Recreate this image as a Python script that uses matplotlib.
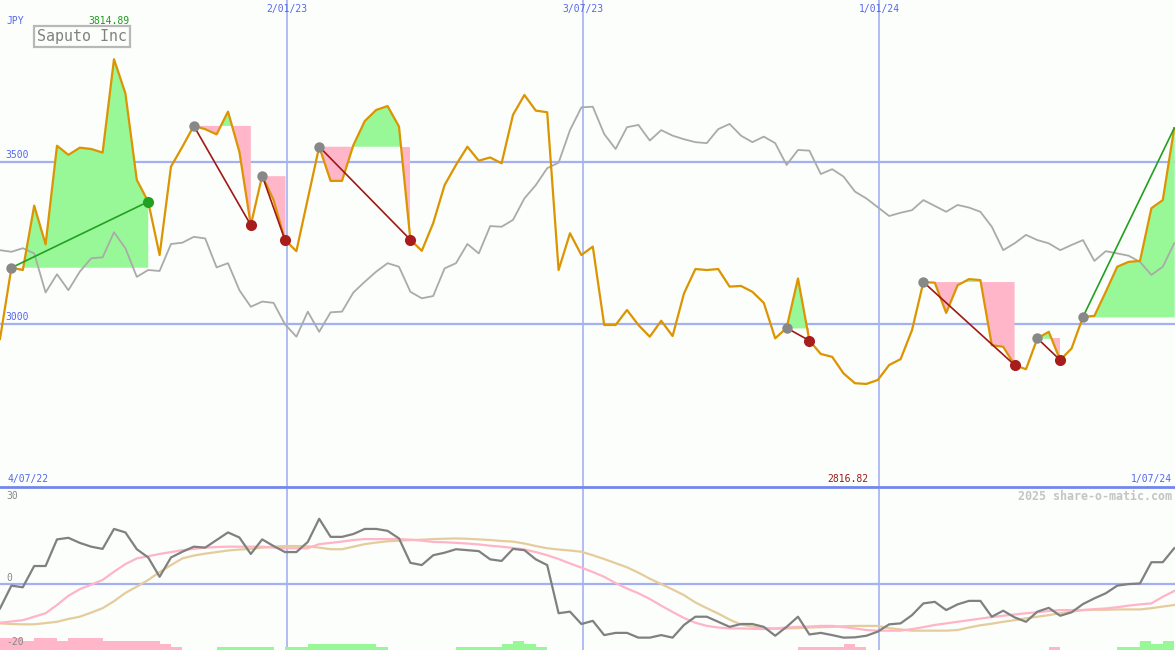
import matplotlib
matplotlib.use('Agg')
import matplotlib.pyplot as plt
import matplotlib.dates as mdates
from matplotlib.lines import Line2D
import numpy as np
import pandas as pd

# weekly closes, JPY
dates = pd.date_range('2022-07-10', periods=104, freq='7D')

price = [2955, 3174, 3167, 3365, 3246, 3549, 3521, 3543, 3539, 3528,
         3814.89, 3710, 3444, 3377, 3213, 3485, 3546, 3610, 3600, 3584,
         3654, 3530, 3305, 3457, 3382, 3259, 3225, 3386, 3546, 3441,
         3441, 3551, 3625, 3659, 3671, 3608, 3260, 3226, 3311, 3428,
         3490, 3546, 3503, 3513, 3495, 3644, 3705, 3657, 3652, 3167,
         3280, 3213, 3239, 2998, 2998, 3044, 2998, 2962, 3011, 2964,
         3095, 3170, 3167, 3170, 3116, 3118, 3100, 3066, 2957, 2989,
         3141, 2950, 2909, 2900, 2849, 2819, 2816.82, 2829, 2875, 2893,
         2982, 3130, 3128, 3035, 3120, 3139, 3136, 2936, 2931, 2875,
         2862, 2957, 2977, 2890, 2926, 3023, 3026, 3100, 3177, 3192,
         3195, 3357, 3382, 3603]

# comparison line (grey)
relative = [3228, 3223, 3234, 3218, 3098, 3154, 3105, 3162, 3203, 3206,
            3283, 3234, 3146, 3167, 3164, 3247, 3251, 3269, 3264, 3175,
            3188, 3105, 3054, 3070, 3066, 3000, 2962, 3039, 2977, 3037,
            3039, 3098, 3131, 3162, 3188, 3177, 3100, 3080, 3087, 3172,
            3188, 3247, 3218, 3302, 3300, 3321, 3387, 3428, 3480, 3497,
            3597, 3667, 3669, 3585, 3539, 3606, 3613, 3565, 3597, 3580,
            3569, 3560, 3557, 3600, 3616, 3580, 3560, 3577, 3557, 3490,
            3536, 3534, 3462, 3477, 3454, 3408, 3387, 3360, 3333, 3343,
            3351, 3382, 3364, 3346, 3367, 3359, 3346, 3300, 3228, 3249,
            3275, 3259, 3249, 3228, 3244, 3259, 3195, 3225, 3218, 3211,
            3192, 3152, 3177, 3249]

# lower panel
momentum = [-7.7, -0.5, -1.0, 5.7, 5.7, 14.1, 14.6, 13.0, 11.8, 11.1,
            17.4, 16.3, 11.0, 8.4, 2.3, 8.4, 10.2, 11.8, 11.5, 13.9,
            16.3, 14.7, 9.5, 14.1, 12.0, 10.1, 10.1, 13.3, 20.6, 14.9,
            14.9, 15.8, 17.4, 17.4, 16.8, 14.4, 6.7, 6.0, 9.1, 9.9,
            11.0, 10.7, 10.4, 7.8, 7.3, 11.1, 10.7, 7.8, 6.0, -9.2,
            -8.7, -12.6, -11.6, -16.1, -15.4, -15.4, -16.9, -16.9, -16.1, -16.9,
            -12.9, -10.3, -10.3, -11.9, -13.5, -12.6, -12.6, -13.5, -16.3, -13.5,
            -10.3, -15.9, -15.4, -16.1, -16.9, -16.8, -16.3, -15.0, -12.7, -12.4,
            -9.8, -6.1, -5.6, -8.2, -6.4, -5.3, -5.3, -10.3, -8.4, -10.5,
            -11.9, -8.7, -7.5, -10.0, -8.9, -6.3, -4.5, -2.9, -0.5, 0.0,
            0.2, 6.9, 6.9, 11.3]

fast = [-12.2, -11.8, -11.4, -10.3, -9.2, -6.6, -3.7, -1.6, -0.2, 1.3,
        3.9, 6.3, 8.1, 8.8, 9.5, 10.1, 10.7, 11.1, 11.5, 11.7,
        11.8, 11.8, 11.8, 11.8, 11.5, 11.3, 11.3, 11.3, 12.6, 13.0,
        13.4, 13.9, 14.2, 14.2, 14.2, 14.2, 14.0, 13.7, 13.3, 13.2,
        13.0, 12.8, 12.5, 12.1, 11.8, 11.4, 10.9, 10.1, 9.1, 7.9,
        6.5, 5.2, 3.8, 2.3, 0.3, -1.4, -2.9, -4.7, -6.8, -8.8,
        -10.7, -12.2, -13.2, -13.7, -14.0, -14.0, -14.1, -14.2, -14.0, -13.7,
        -13.5, -13.4, -13.2, -13.2, -13.6, -14.0, -14.5, -14.7, -14.7, -14.7,
        -14.2, -13.6, -12.9, -12.4, -11.9, -11.4, -10.9, -10.4, -10.0, -9.6,
        -9.2, -8.9, -8.5, -8.2, -8.2, -8.2, -7.9, -7.7, -7.3, -6.8,
        -6.4, -6.1, -4.0, -2.2]

slow = [-12.4, -12.6, -12.7, -12.7, -12.3, -11.9, -11.0, -10.3, -9.0, -7.6,
        -5.4, -2.8, -0.8, 1.3, 3.8, 6.0, 8.1, 9.0, 9.6, 10.1,
        10.6, 10.9, 11.1, 11.5, 11.8, 12.0, 12.0, 11.9, 11.5, 11.0,
        11.0, 11.8, 12.6, 13.1, 13.5, 13.7, 13.9, 14.0, 14.2, 14.3,
        14.4, 14.3, 14.1, 13.9, 13.6, 13.4, 12.8, 12.0, 11.3, 10.9,
        10.6, 10.2, 9.1, 7.9, 6.6, 5.3, 3.6, 1.7, 0.0, -1.7,
        -3.5, -5.8, -7.6, -9.3, -11.2, -12.8, -13.4, -13.8, -14.1, -14.0,
        -13.9, -13.7, -13.6, -13.5, -13.3, -13.2, -13.2, -13.2, -13.9, -14.3,
        -14.7, -14.7, -14.7, -14.7, -14.5, -13.7, -13.0, -12.5, -11.9, -11.4,
        -10.8, -10.3, -9.8, -9.2, -8.7, -8.2, -8.1, -8.1, -8.0, -8.0,
        -8.0, -7.6, -7.1, -6.6]

histo = [-4, -4, -3, -4, -4, -3, -4, -4, -4, -3,
         -3, -3, -3, -3, -2, -1, 0, 0, 0, 1,
         1, 1, 1, 1, 0, 1, 1, 2, 2, 2,
         2, 2, 2, 1, 0, 0, 0, 0, 0, 0,
         1, 1, 1, 1, 2, 3, 2, 1, 0, 0,
         0, 0, 0, 0, 0, 0, 0, 0, 0, 0,
         0, 0, 0, 0, 0, 0, 0, 0, 0, 0,
         -1, -1, -1, -1, -2, -1, 0, 0, 0, 0,
         0, 0, 0, 0, 0, 0, 0, 0, 0, 0,
         0, 0, -1, 0, 0, 0, 0, 0, 1, 1,
         3, 2, 3, 0]

# swing segments (start index, end index); the last one is still open
swings = [(1, 13), (17, 22), (23, 25), (28, 36), (69, 71), (81, 89), (91, 93), (95, 103)]

date_lines = ['2023-01-02', '2023-07-03', '2024-01-01']
date_labels = ['2/01/23', '3/07/23', '1/01/24']

BG = '#fbfefb'
GRID = '#a3b0f2'
BLUE_TXT = '#5468ee'
GREEN = '#98f898'
PINK = '#ffb6c8'
MONO = 'DejaVu Sans Mono'

xs = mdates.date2num(dates.to_pydatetime())
p = np.array(price)
x_left = xs[0]
x_right = xs[0] + 721.5

fig = plt.figure(figsize=(11.75, 6.5), dpi=100, facecolor=BG)
ax = fig.add_axes([0, 1 - 487 / 650, 1, 487 / 650])
ax2 = fig.add_axes([0, 0, 1, 161 / 650])
for a in (ax, ax2):
    a.set_xlim(x_left, x_right)
    a.set_axis_off()
ax.set_ylim(2500, 3997)
ax2.set_ylim(-20.8, 30)

# grid
for d in date_lines:
    xd = mdates.date2num(pd.Timestamp(d).to_pydatetime())
    ax.axvline(xd, color=GRID, lw=1.2, zorder=1)
    ax2.axvline(xd, color=GRID, lw=1.2, zorder=1)
for lvl in (3500, 3000):
    ax.axhline(lvl, color=GRID, lw=1.6, zorder=1)
ax2.axhline(0, color=GRID, lw=1.6, zorder=1)

# swing fills
for s, e in swings:
    xseg = xs[s:e + 1]
    pseg = p[s:e + 1]
    lvl = p[s]
    ax.fill_between(xseg, lvl, pseg, where=pseg >= lvl, interpolate=True,
                    color=GREEN, lw=0, zorder=2)
    ax.fill_between(xseg, lvl, pseg, where=pseg <= lvl, interpolate=True,
                    color=PINK, lw=0, zorder=2)

ax.plot(xs, relative, color='#aaaaaa', lw=1.3, zorder=3)
ax.plot(xs, price, color='#dc9400', lw=1.6, zorder=4)

for i, (s, e) in enumerate(swings):
    up = p[e] > p[s]
    lc = '#22a022' if up else '#a01818'
    ax.plot([xs[s], xs[e]], [p[s], p[e]], color=lc, lw=1.2, zorder=5)
    ax.plot(xs[s], p[s], 'o', color='#888888', ms=7.5, mec='none', zorder=6)
    if i < len(swings) - 1:
        ax.plot(xs[e], p[e], 'o', color='#22a022' if up else '#a81c1c', ms=8,
                mec='none', zorder=6)

# texts, top panel
top_tr = ax.get_xaxis_transform()
for d, lab in zip(date_lines, date_labels):
    xd = mdates.date2num(pd.Timestamp(d).to_pydatetime())
    ax.text(xd, 1 - 9 / 487, lab, transform=top_tr, ha='center', va='center',
            fontsize=7, family=MONO, color=BLUE_TXT)
fig.text(6 / 1175, 1 - 21 / 650, 'JPY', ha='left', va='center', fontsize=7,
         family=MONO, color=BLUE_TXT)
imax = int(np.argmax(p))
ax.text(xs[imax] - 3, 1 - 21 / 487, f'{p[imax]:.2f}', transform=top_tr, ha='center',
        va='center', fontsize=7, family=MONO, color='#1e9a1e')
fig.text(37 / 1175, 1 - 36 / 650, 'Saputo Inc', ha='left', va='center', fontsize=10.8,
         family=MONO, color='#808080',
         bbox=dict(boxstyle='square,pad=0.2', fc=BG, ec='#b8b8b8', lw=1.6))
for lvl in (3500, 3000):
    ax.annotate(str(lvl), (0, lvl), xycoords=('axes fraction', 'data'),
                xytext=(5, 2), textcoords='offset pixels', ha='left', va='bottom',
                fontsize=7, family=MONO, color=BLUE_TXT)

fig.text(8 / 1175, 1 - 479 / 650, '4/07/22', ha='left', va='center', fontsize=7,
         family=MONO, color=BLUE_TXT)
fig.text(1172 / 1175, 1 - 479 / 650, '1/07/24', ha='right', va='center', fontsize=7,
         family=MONO, color=BLUE_TXT)
imin = int(np.argmin(p))
ax.text(xs[imin] + 1, 8 / 487, f'{p[imin]:.2f}', transform=top_tr, ha='right',
        va='center', fontsize=7, family=MONO, color='#a01818')

fig.add_artist(Line2D([0, 1], [1 - 487 / 650] * 2, transform=fig.transFigure,
                      color='#7486ec', lw=2))

# lower panel
hv = np.array(histo) * 0.95
ax2.bar(xs, np.abs(hv), width=7, align='edge', bottom=-20.8,
        color=[GREEN if v > 0 else PINK for v in hv], lw=0, zorder=2)
ax2.plot(xs, slow, color='#e5cc9c', lw=1.6, zorder=3)
ax2.plot(xs, fast, color='#ffb4c8', lw=1.6, zorder=3)
ax2.plot(xs, momentum, color='#808080', lw=1.6, zorder=4)

fig.text(6 / 1175, 1 - 496 / 650, '30', ha='left', va='center', fontsize=7,
         family=MONO, color='#888888')
fig.text(6 / 1175, 1 - 578 / 650, '0', ha='left', va='center', fontsize=7,
         family=MONO, color='#888888')
fig.text(6 / 1175, 1 - 642 / 650, '-20', ha='left', va='center', fontsize=7,
         family=MONO, color='#888888')
fig.text(1172 / 1175, 1 - 496 / 650, '2025 share-o-matic.com', ha='right', va='center',
         fontsize=8.4, family=MONO, color='#c4c4c4', fontweight='bold')

fig.savefig('out.png', dpi=100, facecolor=BG)
